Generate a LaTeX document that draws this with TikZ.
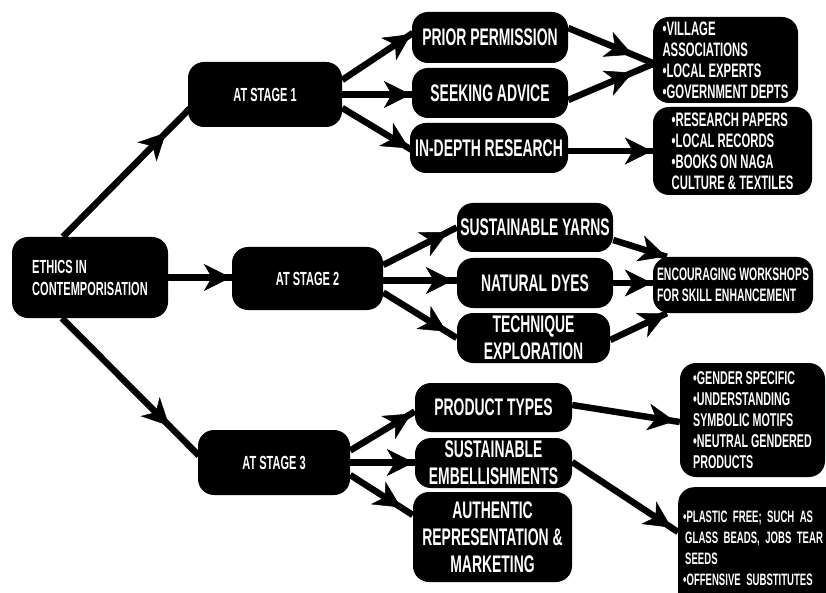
\documentclass[tikz,border=0pt]{standalone}
\usepackage{fontspec}
\setmainfont{Liberation Sans}[FakeStretch=0.58]
\usetikzlibrary{arrows.meta,decorations.markings,calc}
\tikzset{
  box/.style={fill=black, draw=none, rounded corners=16pt, text=white, inner sep=0pt, align=center},
  lvlone/.style={box, font=\bfseries\fontsize{19}{22}\selectfont},
  lvltwo/.style={box, font=\bfseries\fontsize{24}{27}\selectfont},
  lvlthree/.style={box, align=left, font=\bfseries\fontsize{19.5}{21}\selectfont},
  conn/.style={line width=6.5pt},
  tipat/.style={postaction={decorate}, decoration={markings, mark=at position #1 with {\arrow{Stealth[length=27pt,width=27pt,inset=8pt,line width=0.5pt]}}}},
}
\begin{document}
\begin{tikzpicture}[x=1pt,y=-1pt]
\useasboundingbox (0,0) rectangle (826,593);
% level 1
\node[lvlone, align=left, minimum width=156pt, minimum height=81pt] (ethics) at (90,277.5) {ETHICS IN\\CONTEMPORISATION};
\node[lvlone, minimum width=154pt, minimum height=65pt] (stage1) at (265,94.5) {AT STAGE 1};
\node[lvlone, minimum width=151pt, minimum height=63pt] (stage2) at (307.5,278.5) {AT STAGE 2};
\node[lvlone, minimum width=152pt, minimum height=65pt] (stage3) at (274,462.5) {AT STAGE 3};
% level 2
\node[lvltwo, minimum width=156pt, minimum height=51pt] (prior) at (490,37.5) {PRIOR PERMISSION};
\node[lvltwo, minimum width=156pt, minimum height=50pt] (seeking) at (490,93) {SEEKING ADVICE};
\node[lvltwo, minimum width=158pt, minimum height=50pt] (indepth) at (489,148) {IN-DEPTH RESEARCH};
\node[lvltwo, minimum width=156pt, minimum height=49pt] (yarns) at (535,227.5) {SUSTAINABLE YARNS};
\node[lvltwo, minimum width=156pt, minimum height=50pt] (dyes) at (535,283) {NATURAL DYES};
\node[lvltwo, minimum width=153pt, minimum height=50pt] (technique) at (533.5,338) {TECHNIQUE\\EXPLORATION};
\node[lvltwo, minimum width=157pt, minimum height=49pt] (product) at (493.5,407.5) {PRODUCT TYPES};
\node[lvltwo, minimum width=157pt, minimum height=50pt] (embell) at (493.5,463) {SUSTAINABLE\\EMBELLISHMENTS};
\node[lvltwo, minimum width=159pt, minimum height=90pt] (authentic) at (492.5,537) {AUTHENTIC\\REPRESENTATION \&\\MARKETING};
% level 3
\node[lvlthree, minimum width=145pt, minimum height=86pt] (village) at (725.5,60) {•VILLAGE\\ASSOCIATIONS\\•LOCAL EXPERTS\\•GOVERNMENT DEPTS};
\node[lvlthree, minimum width=159pt, minimum height=88pt] (research) at (732.5,151) {•RESEARCH PAPERS\\•LOCAL RECORDS\\•BOOKS ON NAGA\\CULTURE \& TEXTILES};
\node[lvlthree, font=\bfseries\fontsize{18}{21}\selectfont, minimum width=160pt, minimum height=56pt] (encouraging) at (733,285) {ENCOURAGING WORKSHOPS\\FOR SKILL ENHANCEMENT};
\node[lvlthree, font=\bfseries\fontsize{18.5}{21}\selectfont, minimum width=145pt, minimum height=114pt] (gender) at (752.5,420) {•GENDER SPECIFIC\\•UNDERSTANDING\\SYMBOLIC MOTIFS\\•NEUTRAL GENDERED\\PRODUCTS};
\node[lvlthree, font=\bfseries\fontsize{16.5}{21}\selectfont, anchor=north west, minimum width=175pt, minimum height=122pt, text width=220pt, inner xsep=5pt] (plastic) at (678,487) {•PLASTIC FREE; SUCH AS\\\hspace*{2pt}GLASS BEADS, JOBS TEAR\\\hspace*{2pt}SEEDS\\•OFFENSIVE SUBSTITUTES};
% connectors
\draw[conn, tipat=-34pt] ($(ethics.north)+(-27,0)$) -- ($(stage1.west)+(2,14)$);
\draw[conn, tipat=-1pt] (ethics.east) -- (ethics.east -| stage2.west);
\draw[conn, tipat=-42pt] ($(ethics.south)+(-28,0)$) -- ($(stage3.west)+(1,-7)$);
\draw[conn, tipat=-2pt] ($(stage1.east)+(0,-14.5)$) -- ($(prior.west)+(1,-4.5)$);
\draw[conn, tipat=-1pt] (stage1.east) -- (stage1.east -| seeking.west);
\draw[conn, tipat=-3pt] ($(stage1.east)+(0,13.5)$) -- ($(indepth.west)+(2,2)$);
\draw[conn, tipat=-22pt] ($(prior.east)+(0,-9.5)$) -- ($(village.west)+(0,3)$);
\draw[conn, tipat=-22pt] ($(seeking.east)+(0,7)$) -- ($(village.west)+(0,4)$);
\draw[conn, tipat=-1pt] ($(indepth.east)+(0,3)$) -- ($(indepth.east -| research.west)+(0,3)$);
\draw[conn, tipat=-10pt] ($(stage2.east)+(0,-13.5)$) -- (yarns.west);
\draw[conn, tipat=-4pt] ($(stage2.east)+(0,2)$) -- ($(stage2.east -| dyes.west)+(0,2)$);
\draw[conn, tipat=-12pt] ($(stage2.east)+(0,14)$) -- (technique.west);
\draw[conn, tipat=-1pt] ($(yarns.east)+(0,12.5)$) -- ($(encouraging.north west)+(14,0)$);
\draw[conn, tipat=-1pt] (dyes.east) -- (dyes.east -| encouraging.west);
\draw[conn, tipat=-1pt] ($(technique.east)+(0,2)$) -- ($(encouraging.south west)+(14,0)$);
\draw[conn, tipat=-4pt] ($(stage3.east)+(0,-12)$) -- ($(product.west)+(0,4)$);
\draw[conn, tipat=-1pt] (stage3.east) -- (stage3.east -| embell.west);
\draw[conn, tipat=-14pt] ($(stage3.east)+(0,12.5)$) -- ($(authentic.west)+(0,-22)$);
\draw[conn, tipat=-5pt] ($(product.east)+(0,-2.5)$) -- ($(gender.west)+(0,2)$);
\draw[conn, tipat=-8pt] ($(embell.east)+(0,-1)$) -- ($(plastic.north west)+(0,45)$);
\end{tikzpicture}
\end{document}
